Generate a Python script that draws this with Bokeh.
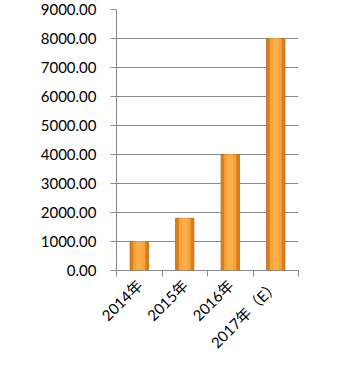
from bokeh.plotting import figure
from bokeh.models import FixedTicker, Range1d, ColumnDataSource, PrintfTickFormatter
from bokeh.embed import file_html
from bokeh.resources import INLINE
import math

categories = ["2014年", "2015年", "2016年", "2017年（E）"]
values = [1000.0, 1800.0, 4000.0, 8000.0]
y_ticks = [0, 1000, 2000, 3000, 4000, 5000, 6000, 7000, 8000, 9000]

n = len(categories)
centers = [i + 0.5 for i in range(n)]
bounds = [i for i in range(n + 1)]

src = ColumnDataSource(dict(x=centers, top=values))

FONT = "Lato, 'Noto Sans CJK SC'"
GRAY = "#8a8a8a"

p = figure(width=354, height=369, output_backend="svg", toolbar_location=None,
           x_range=Range1d(0, n), y_range=Range1d(0, 9000),
           min_border_left=116, min_border_right=56, min_border_top=9, min_border_bottom=99)
p.outline_line_color = None
p.background_fill_color = "white"
p.border_fill_color = "white"

# bars: outer darker, inner lighter for a gradient impression
p.vbar(x="x", top="top", width=0.4, bottom=0, source=src,
       fill_color="#DB7E1C", line_color="#C46F18", line_width=1)
p.vbar(x="x", top="top", width=0.26, bottom=0, source=src,
       fill_color="#F9A33B", line_color=None)
p.vbar(x="x", top="top", width=0.12, bottom=0, source=src,
       fill_color="#FBAF4A", line_color=None)

# y axis
yax = p.yaxis[0]
yax.ticker = FixedTicker(ticks=y_ticks)
yax.formatter = PrintfTickFormatter(format="%.2f")
yax.axis_line_color = GRAY
yax.major_tick_line_color = GRAY
yax.major_tick_out = 6
yax.major_tick_in = 0
yax.minor_tick_line_color = None
yax.major_label_standoff = 14
yax.major_label_text_font = FONT
yax.major_label_text_font_size = "15px"
yax.major_label_text_color = "#000000"

# x axis
xax = p.xaxis[0]
xax.ticker = FixedTicker(ticks=centers, minor_ticks=bounds)
xax.major_label_overrides = {c: lab for c, lab in zip(centers, categories)}
xax.axis_line_color = GRAY
xax.major_tick_line_color = None
xax.major_tick_out = 0
xax.major_tick_in = 0
xax.minor_tick_line_color = GRAY
xax.minor_tick_out = 6
xax.minor_tick_in = 0
xax.major_label_orientation = math.pi / 4
xax.major_label_standoff = 6
xax.major_label_text_font = FONT
xax.major_label_text_font_size = "15px"
xax.major_label_text_color = "#000000"

p.xgrid.grid_line_color = None
p.ygrid.ticker = FixedTicker(ticks=y_ticks)
p.ygrid.grid_line_color = GRAY
p.ygrid.grid_line_width = 1

open("out.html", "w").write(file_html(p, INLINE))
